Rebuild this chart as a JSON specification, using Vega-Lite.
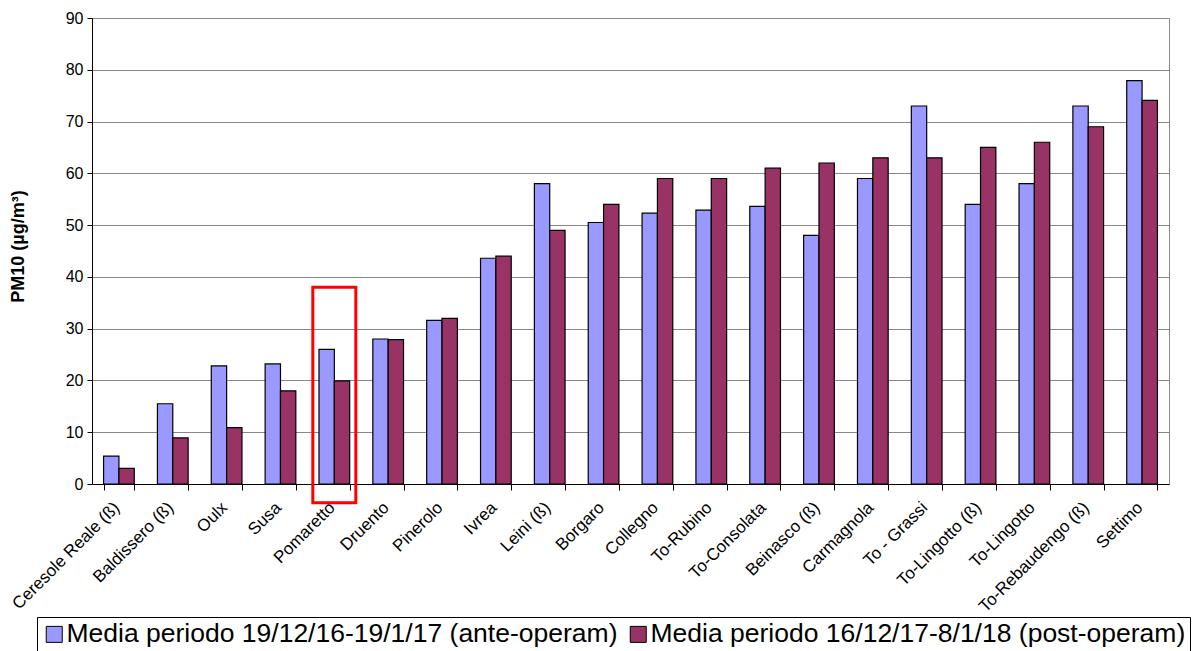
{
  "$schema": "https://vega.github.io/schema/vega-lite/v6.json",
  "width": 1077,
  "height": 466,
  "autosize": {"type": "none"},
  "padding": {"left": 92, "top": 18, "right": 29, "bottom": 167},
  "background": "white",
  "config": {
    "font": "Liberation Sans",
    "view": {"stroke": "#888888", "strokeWidth": 1},
    "axis": {"labelColor": "#000000", "titleColor": "#000000", "domainColor": "#000000", "tickColor": "#000000"}
  },
  "datasets": {
    "pm": [
      {"station": "Ceresole Reale (ß)", "period": "Media periodo 19/12/16-19/1/17 (ante-operam)", "value": 5.4},
      {"station": "Ceresole Reale (ß)", "period": "Media periodo 16/12/17-8/1/18 (post-operam)", "value": 3.0},
      {"station": "Baldissero (ß)", "period": "Media periodo 19/12/16-19/1/17 (ante-operam)", "value": 15.5},
      {"station": "Baldissero (ß)", "period": "Media periodo 16/12/17-8/1/18 (post-operam)", "value": 8.9},
      {"station": "Oulx", "period": "Media periodo 19/12/16-19/1/17 (ante-operam)", "value": 22.8},
      {"station": "Oulx", "period": "Media periodo 16/12/17-8/1/18 (post-operam)", "value": 10.9},
      {"station": "Susa", "period": "Media periodo 19/12/16-19/1/17 (ante-operam)", "value": 23.2},
      {"station": "Susa", "period": "Media periodo 16/12/17-8/1/18 (post-operam)", "value": 18.0},
      {"station": "Pomaretto", "period": "Media periodo 19/12/16-19/1/17 (ante-operam)", "value": 26.0},
      {"station": "Pomaretto", "period": "Media periodo 16/12/17-8/1/18 (post-operam)", "value": 19.9},
      {"station": "Druento", "period": "Media periodo 19/12/16-19/1/17 (ante-operam)", "value": 28.0},
      {"station": "Druento", "period": "Media periodo 16/12/17-8/1/18 (post-operam)", "value": 27.9},
      {"station": "Pinerolo", "period": "Media periodo 19/12/16-19/1/17 (ante-operam)", "value": 31.6},
      {"station": "Pinerolo", "period": "Media periodo 16/12/17-8/1/18 (post-operam)", "value": 32.0},
      {"station": "Ivrea", "period": "Media periodo 19/12/16-19/1/17 (ante-operam)", "value": 43.6},
      {"station": "Ivrea", "period": "Media periodo 16/12/17-8/1/18 (post-operam)", "value": 44.0},
      {"station": "Leini (ß)", "period": "Media periodo 19/12/16-19/1/17 (ante-operam)", "value": 58.0},
      {"station": "Leini (ß)", "period": "Media periodo 16/12/17-8/1/18 (post-operam)", "value": 49.0},
      {"station": "Borgaro", "period": "Media periodo 19/12/16-19/1/17 (ante-operam)", "value": 50.5},
      {"station": "Borgaro", "period": "Media periodo 16/12/17-8/1/18 (post-operam)", "value": 54.0},
      {"station": "Collegno", "period": "Media periodo 19/12/16-19/1/17 (ante-operam)", "value": 52.3},
      {"station": "Collegno", "period": "Media periodo 16/12/17-8/1/18 (post-operam)", "value": 59.0},
      {"station": "To-Rubino", "period": "Media periodo 19/12/16-19/1/17 (ante-operam)", "value": 52.9},
      {"station": "To-Rubino", "period": "Media periodo 16/12/17-8/1/18 (post-operam)", "value": 59.0},
      {"station": "To-Consolata", "period": "Media periodo 19/12/16-19/1/17 (ante-operam)", "value": 53.6},
      {"station": "To-Consolata", "period": "Media periodo 16/12/17-8/1/18 (post-operam)", "value": 61.0},
      {"station": "Beinasco (ß)", "period": "Media periodo 19/12/16-19/1/17 (ante-operam)", "value": 48.0},
      {"station": "Beinasco (ß)", "period": "Media periodo 16/12/17-8/1/18 (post-operam)", "value": 62.0},
      {"station": "Carmagnola", "period": "Media periodo 19/12/16-19/1/17 (ante-operam)", "value": 59.0},
      {"station": "Carmagnola", "period": "Media periodo 16/12/17-8/1/18 (post-operam)", "value": 63.0},
      {"station": "To - Grassi", "period": "Media periodo 19/12/16-19/1/17 (ante-operam)", "value": 73.0},
      {"station": "To - Grassi", "period": "Media periodo 16/12/17-8/1/18 (post-operam)", "value": 63.0},
      {"station": "To-Lingotto (ß)", "period": "Media periodo 19/12/16-19/1/17 (ante-operam)", "value": 54.0},
      {"station": "To-Lingotto (ß)", "period": "Media periodo 16/12/17-8/1/18 (post-operam)", "value": 65.0},
      {"station": "To-Lingotto", "period": "Media periodo 19/12/16-19/1/17 (ante-operam)", "value": 58.0},
      {"station": "To-Lingotto", "period": "Media periodo 16/12/17-8/1/18 (post-operam)", "value": 66.0},
      {"station": "To-Rebaudengo (ß)", "period": "Media periodo 19/12/16-19/1/17 (ante-operam)", "value": 73.0},
      {"station": "To-Rebaudengo (ß)", "period": "Media periodo 16/12/17-8/1/18 (post-operam)", "value": 69.0},
      {"station": "Settimo", "period": "Media periodo 19/12/16-19/1/17 (ante-operam)", "value": 77.9},
      {"station": "Settimo", "period": "Media periodo 16/12/17-8/1/18 (post-operam)", "value": 74.1}
    ],
    "highlight": [
      {"station": "Pomaretto", "top": 38, "bottom": -3.6}
    ]
  },
  "layer": [
    {
      "data": {"name": "pm"},
      "mark": {"type": "bar", "stroke": "#000000", "strokeWidth": 1.2},
      "encoding": {
        "x": {
          "field": "station",
          "type": "nominal",
          "sort": null,
          "scale": {"paddingInner": 0.43, "paddingOuter": 0.215},
          "axis": {
            "title": null,
            "labelAngle": -45,
            "labelFontSize": 17,
            "labelPadding": 9,
            "labelOffset": -8,
            "tickBand": "extent",
            "tickSize": 6,
            "labelOverlap": false,
            "labelLimit": 300
          }
        },
        "xOffset": {
          "field": "period",
          "type": "nominal",
          "sort": ["Media periodo 19/12/16-19/1/17 (ante-operam)", "Media periodo 16/12/17-8/1/18 (post-operam)"],
          "scale": {"paddingInner": 0, "paddingOuter": 0}
        },
        "y": {
          "field": "value",
          "type": "quantitative",
          "scale": {"domain": [0, 90], "nice": false},
          "axis": {
            "title": "PM10 (µg/m³)",
            "titleFontSize": 18,
            "titleFontWeight": "bold",
            "titleAngle": -90,
            "titleX": -74,
            "titleY": 228,
            "titleAlign": "center",
            "titleBaseline": "middle",
            "values": [0, 10, 20, 30, 40, 50, 60, 70, 80, 90],
            "labelFontSize": 16,
            "labelPadding": 4,
            "tickSize": 5,
            "grid": true,
            "gridColor": "#888888",
            "gridWidth": 1
          }
        },
        "color": {
          "field": "period",
          "type": "nominal",
          "sort": ["Media periodo 19/12/16-19/1/17 (ante-operam)", "Media periodo 16/12/17-8/1/18 (post-operam)"],
          "scale": {
            "domain": ["Media periodo 19/12/16-19/1/17 (ante-operam)", "Media periodo 16/12/17-8/1/18 (post-operam)"],
            "range": ["#9999FF", "#993366"]
          },
          "legend": {
            "title": null,
            "orient": "none",
            "legendX": -55,
            "legendY": 599,
            "direction": "horizontal",
            "strokeColor": "#000000",
            "padding": 4,
            "symbolType": "square",
            "symbolSize": 256,
            "symbolStrokeColor": "#000000",
            "symbolStrokeWidth": 1,
            "labelFontSize": 26.5,
            "labelColor": "#000000",
            "labelOffset": -1,
            "labelLimit": 800,
            "columnPadding": 7
          }
        }
      }
    },
    {
      "data": {"name": "highlight"},
      "mark": {"type": "bar", "fill": null, "fillOpacity": 0, "stroke": "#FF0000", "strokeWidth": 3, "width": 43},
      "encoding": {
        "x": {"field": "station", "type": "nominal", "sort": null},
        "y": {"field": "top", "type": "quantitative"},
        "y2": {"field": "bottom"}
      }
    }
  ]
}
